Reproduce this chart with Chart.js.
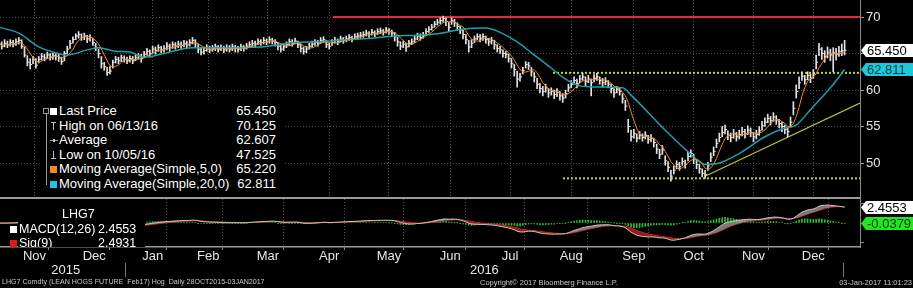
<!DOCTYPE html>
<html>
<head>
<meta charset="utf-8">
<script src="https://cdn.jsdelivr.net/npm/chart.js@4.4.1/dist/chart.umd.min.js"></script>
<style>
  body { margin:0; background:#000; width:913px; height:288px; overflow:hidden; position:relative;
         font-family:"Liberation Sans", Arial, sans-serif; color:#fff; }
  canvas { position:absolute; left:0; }
  #priceCanvas { top:0; }
  #macdCanvas { top:198px; }
  .box { position:absolute; background:#000; }
  .row { position:absolute; left:0; right:0; height:14px; line-height:14px; font-size:13px; white-space:nowrap; }
  .row .lbl { position:absolute; left:17px; }
  .row .val { position:absolute; right:8px; }
  .sq { position:absolute; width:7px; height:7px; top:4px; }
  .foot { position:absolute; top:278px; font-size:7.5px; color:#c8c8c8; white-space:nowrap; }
</style>
</head>
<body>
<canvas id="priceCanvas" width="913" height="199"></canvas>
<canvas id="macdCanvas" width="913" height="90"></canvas>

<!-- price legend -->
<div class="box" id="legend" style="left:42px;top:100px;width:242px;height:96px;">
  <div style="position:absolute;left:1px;top:8px;width:4px;height:4px;border:1px solid #999;"></div>
  <div style="position:absolute;left:4px;top:13px;width:1px;height:72px;background:#999;"></div>
  <div class="row" style="top:4px"><span class="sq" style="left:8px;background:#fff"></span><span class="lbl">Last Price</span><span class="val">65.450</span></div>
  <div class="row" style="top:18.6px"><span style="position:absolute;left:9px;top:3px;width:5px;height:1px;background:#bbb"></span><span style="position:absolute;left:11px;top:3px;width:1px;height:8px;background:#bbb"></span><span class="lbl">High on 06/13/16</span><span class="val">70.125</span></div>
  <div class="row" style="top:33.2px"><span style="position:absolute;left:8px;top:7px;width:8px;height:1px;background:#999"></span><span style="position:absolute;left:11px;top:6px;width:2px;height:3px;background:#ccc"></span><span class="lbl">Average</span><span class="val">62.607</span></div>
  <div class="row" style="top:47.8px"><span style="position:absolute;left:11px;top:3px;width:1px;height:8px;background:#bbb"></span><span style="position:absolute;left:9px;top:10px;width:5px;height:1px;background:#bbb"></span><span class="lbl">Low on 10/05/16</span><span class="val">47.525</span></div>
  <div class="row" style="top:62.4px"><span class="sq" style="left:8px;background:#f08c1e"></span><span class="lbl">Moving Average(Simple,5,0)</span><span class="val">65.220</span></div>
  <div class="row" style="top:77px"><span class="sq" style="left:8px;background:#19c6dc"></span><span class="lbl">Moving Average(Simple,20,0)</span><span class="val">62.811</span></div>
</div>

<!-- MACD legend -->
<div class="box" style="left:18px;top:199px;width:127px;height:48px;overflow:hidden;">
  <div class="row" style="top:8px;left:44px;font-size:12.5px;">LHG7</div>
  <div class="row" style="top:23px;font-size:12.5px;"><span style="position:absolute;left:1px;">MACD(12,26)</span><span style="position:absolute;left:80px;">2.4553</span></div>
  <div class="row" style="top:37px;font-size:12.5px;"><span style="position:absolute;left:1px;">Sig(9)</span><span style="position:absolute;left:80px;">2.4931</span></div>
</div>
<div style="position:absolute;left:10px;top:226px;width:7px;height:7px;background:#fff;"></div>
<div style="position:absolute;left:10px;top:240px;width:7px;height:7px;background:#e01818;"></div>

<div class="foot" style="left:2px;font-size:7.1px;">LHG7 Comdty (LEAN HOGS FUTURE &nbsp;Feb17) Hog &nbsp;Daily 28OCT2015-03JAN2017</div>
<div class="foot" style="left:480px;">Copyright© 2017 Bloomberg Finance L.P.</div>
<div class="foot" style="right:1px;">03-Jan-2017 11:01:23</div>

<script>
// ---- data (one value per trading day, 28 Oct 2015 .. 03 Jan 2017) ----
const monthLabels = ['Nov','Dec','Jan','Feb','Mar','Apr','May','Jun','Jul','Aug','Sep','Oct','Nov','Dec'];
const yearLabels = ['2015','2016'];
// trading days per month: Oct15 .. Jan17
const monthLengths = [3,20,22,19,20,22,21,21,22,20,23,21,21,21,21,1];

const closes = [
  66.3,66.0,66.4,
  66.2,66.5,66.3,66.6,66.8,66.0,64.8,63.8,63.5,64.2,63.4,64.2,64.6,64.4,64.8,64.5,64.7,64.6,64.4,63.9,
  65.0,65.6,66.4,66.9,67.4,67.6,67.2,67.4,67.0,67.2,66.5,65.8,65.0,63.6,63.2,62.4,62.6,63.8,64.2,64.0,64.4,64.2,
  64.0,64.3,64.0,64.4,64.6,64.3,64.9,65.3,65.0,65.6,65.4,65.8,65.5,65.7,66.0,65.8,66.2,66.0,66.3,
  66.1,66.4,66.2,66.5,66.8,66.4,65.6,65.2,65.4,65.8,65.5,65.7,65.9,65.6,65.8,65.5,65.8,65.6,65.9,65.7,
  65.6,65.9,65.7,66.0,66.2,66.4,66.3,66.6,66.5,66.8,66.6,66.9,66.7,66.5,66.0,65.6,65.9,66.2,66.6,66.4,66.7,66.2,
  65.7,65.3,65.6,66.0,66.3,66.5,66.4,66.8,66.9,66.2,66.0,66.5,66.8,66.6,67.0,66.8,67.0,67.2,67.0,67.3,67.4,
  67.5,67.6,67.8,67.6,67.9,67.7,68.0,68.1,67.9,68.2,68.0,67.8,67.3,66.6,66.0,66.3,65.9,66.4,66.6,67.0,67.4,
  67.2,67.5,68.0,68.3,68.6,69.0,69.3,69.5,69.8,69.4,68.6,69.5,69.2,68.7,68.2,67.6,66.9,65.9,66.4,67.0,67.3,67.1,
  67.3,66.9,66.6,66.8,66.2,65.7,65.5,65.0,64.9,64.3,63.6,62.8,61.5,61.8,62.7,63.5,63.3,62.5,61.8,60.8,
  60.2,59.8,60.3,59.6,59.8,59.4,59.7,59.2,58.9,59.5,60.3,60.8,61.3,60.9,61.5,61.8,61.2,61.5,61.0,61.6,61.8,61.3,61.0,
  61.2,60.8,60.2,59.6,60.1,59.8,58.8,57.8,55.0,53.6,54.0,53.4,53.8,53.5,53.8,53.2,53.4,52.8,51.9,51.2,51.8,
  50.3,49.4,48.2,49.0,49.8,49.5,50.2,49.8,50.9,51.3,50.5,49.8,49.2,48.6,48.4,49.6,50.8,51.6,52.7,53.5,54.2,
  54.6,53.8,53.5,54.0,53.6,53.9,54.3,54.0,54.5,54.2,53.6,53.9,54.4,55.1,55.6,56.1,55.8,56.3,55.9,55.4,55.0,
  54.6,54.3,55.6,57.5,59.8,61.0,61.9,61.4,62.0,61.6,62.2,63.8,65.6,65.0,64.6,65.2,64.8,65.1,64.9,65.3,65.4,
  65.45
];
const highs = [
  66.8,66.6,66.9,
  66.7,66.9,66.8,67.0,67.2,66.9,65.9,64.7,64.3,64.6,64.3,64.6,65.0,64.9,65.2,65.0,65.1,65.0,64.9,64.5,
  65.3,66.0,66.8,67.3,67.7,68.0,67.7,67.8,67.5,67.6,67.1,66.4,65.6,64.6,63.8,63.1,63.2,64.1,64.6,64.5,64.8,64.7,
  64.5,64.7,64.6,64.8,65.0,64.9,65.3,65.7,65.5,66.0,65.9,66.2,66.0,66.1,66.5,66.3,66.6,66.5,66.7,
  66.6,66.8,66.7,66.9,67.2,66.9,66.3,65.7,65.8,66.2,66.0,66.1,66.3,66.1,66.2,66.0,66.2,66.1,66.3,66.1,
  66.0,66.3,66.1,66.4,66.6,66.8,66.7,67.0,66.9,67.2,67.0,67.3,67.1,66.9,66.5,66.1,66.3,66.6,67.0,66.9,67.1,66.7,
  66.3,65.9,66.0,66.4,66.7,66.9,66.8,67.2,67.3,66.8,66.4,66.9,67.2,67.0,67.4,67.2,67.4,67.6,67.4,67.7,67.8,
  67.9,68.0,68.2,68.0,68.3,68.1,68.4,68.5,68.3,68.6,68.4,68.2,67.9,67.2,66.6,66.7,66.4,66.8,67.0,67.4,67.8,
  67.7,67.9,68.4,68.7,69.0,69.4,69.7,69.9,70.125,69.9,69.3,69.9,69.7,69.2,68.7,68.2,67.6,66.8,66.9,67.4,67.7,67.6,
  67.7,67.4,67.1,67.2,66.8,66.2,66.0,65.5,65.3,64.9,64.3,63.5,62.6,62.3,63.1,63.9,63.8,63.1,62.4,61.6,
  60.9,60.5,60.8,60.2,60.3,60.0,60.2,59.8,59.5,60.0,60.8,61.3,61.8,61.5,62.0,62.3,61.8,62.0,61.5,62.1,62.3,61.8,61.6,
  61.7,61.3,60.8,60.2,60.5,60.3,59.5,58.6,56.0,54.5,54.6,54.0,54.3,54.0,54.3,53.8,53.9,53.4,52.6,51.9,52.4,
  51.0,50.2,49.0,49.6,50.3,50.1,50.7,50.4,51.5,51.8,51.2,50.4,49.8,49.2,49.0,50.1,51.4,52.2,53.3,54.1,55.0,
  55.2,54.4,54.1,54.6,54.2,54.5,54.9,54.6,55.1,54.8,54.2,54.5,55.0,55.7,56.2,56.7,56.4,56.9,56.5,56.0,55.6,
  55.2,54.9,56.3,58.4,60.7,61.8,62.5,62.0,62.5,62.2,62.8,64.8,66.4,65.8,65.4,65.9,65.6,65.8,65.7,66.0,66.3,
  66.8
];
const lows = [
  65.8,65.6,65.9,
  65.8,66.0,65.9,66.1,66.3,65.7,64.5,63.3,62.9,63.6,63.0,63.7,64.1,64.0,64.3,64.1,64.2,64.1,63.9,63.5,
  64.0,65.0,65.7,66.4,66.9,67.1,66.8,66.9,66.5,66.7,66.1,65.4,64.4,63.0,62.7,62.0,62.2,63.0,63.7,63.6,63.9,63.8,
  63.6,63.8,63.6,64.0,64.2,63.8,64.4,64.8,64.5,65.1,64.9,65.3,65.1,65.2,65.5,65.3,65.7,65.6,65.8,
  65.7,65.9,65.8,66.0,66.3,65.9,65.1,64.8,64.9,65.3,65.1,65.3,65.4,65.2,65.4,65.1,65.3,65.2,65.4,65.2,
  65.2,65.4,65.3,65.6,65.8,65.9,65.9,66.2,66.1,66.3,66.2,66.4,66.3,66.0,65.5,65.2,65.4,65.8,66.1,66.0,66.3,65.8,
  65.2,64.9,65.1,65.6,65.9,66.1,66.0,66.4,66.5,65.8,65.6,66.1,66.4,66.2,66.6,66.4,66.6,66.8,66.6,66.9,67.0,
  67.1,67.2,67.4,67.2,67.5,67.3,67.6,67.7,67.5,67.8,67.6,67.3,66.7,66.0,65.5,65.8,65.3,65.9,66.2,66.5,66.9,
  66.8,67.1,67.5,67.9,68.2,68.6,68.9,69.1,69.3,68.8,68.0,69.0,68.7,68.2,67.7,67.0,66.3,65.2,65.8,66.5,66.9,66.6,
  66.8,66.4,66.1,66.3,65.6,65.2,65.0,64.5,64.4,63.8,63.0,61.9,60.4,61.2,62.2,63.0,62.8,61.9,61.1,60.2,
  59.6,59.2,59.7,59.0,59.3,58.8,59.1,58.6,58.3,58.9,59.8,60.3,60.8,60.3,61.0,61.3,60.6,61.0,59.2,61.1,61.3,60.8,60.4,
  60.7,60.3,59.6,59.0,59.6,59.3,58.2,57.2,54.2,53.0,53.4,52.9,53.3,53.0,53.3,52.7,52.9,52.2,51.3,50.6,51.2,
  49.7,48.8,47.525,48.5,49.2,49.0,49.7,49.3,50.3,50.8,49.9,49.2,48.6,48.1,47.9,49.0,50.2,51.0,52.1,52.9,53.6,
  54.0,53.2,52.9,53.4,53.0,53.3,53.7,53.4,53.9,53.6,52.9,53.3,53.8,54.5,55.0,55.5,55.2,55.7,55.3,54.8,54.3,
  54.0,53.6,54.9,56.6,58.9,60.2,61.3,60.8,61.4,61.0,61.6,62.9,64.7,64.2,63.8,64.4,64.0,62.5,64.1,64.6,64.7,
  64.8
];
// 20-day moving average, read at roughly weekly steps (trading-day index, value)
const ma20Days = [0,7,14,20,24,31,35,41,46,51,58,68,80,92,104,112,119,131,139,147,154,162,171,176,182,187,193,199,205,211,219,222,234,243,248,253,260,269,276,280,285,292,297];
const ma20Vals = [68.6,67.8,65.9,65.1,64.8,65.5,65.8,65.3,65.2,64.5,65.0,65.8,65.8,65.9,66.5,66.6,66.8,67.1,67.4,67.5,67.7,68.3,68.5,67.9,66.6,65.1,63.3,61.5,60.5,60.4,60.3,59.3,54.5,51.2,49.8,50.0,51.3,53.6,54.8,55.2,57.3,60.3,62.811];
// drawn study lines: [startDay, startValue, endDay, endValue]
const highLine = [117.3, 70.0, 302.4, 70.0];
const upperBand = [194.6, 62.35, 302.4, 62.35];
const lowerBand = [198.1, 47.9, 302.4, 47.9];
const trendLine = [248.0, 48.2, 302.4, 58.2];
// last values shown in the right-hand flags
const lastPrice = 65.450, lastMa20 = 62.811, lastMacd = 2.4553, lastHist = -0.0379;

// ---- derived studies (as named in the legend) ----
const ma5 = closes.map((c, i) => {
  const w = closes.slice(Math.max(0, i - 4), i + 1);
  return w.reduce((a, b) => a + b, 0) / w.length;
});
function ema(src, n) {
  const k = 2 / (n + 1), out = [];
  src.forEach((v, i) => out.push(i ? v * k + out[i - 1] * (1 - k) : v));
  return out;
}
const e12 = ema(closes, 12), e26 = ema(closes, 26);
const macd = e12.map((v, i) => v - e26[i]);
const sig = ema(macd, 9);
const hist = macd.map((v, i) => v - sig[i]);

// ---- month / year positions on the trading-day axis ----
const starts = [];
monthLengths.reduce((acc, n) => { starts.push(acc); return acc + n; }, 0);
const bounds = starts.slice(1).map(s => s - 0.5);            // Nov15 .. Jan17 boundaries
const monthCenters = monthLabels.map((m, i) => (bounds[i] + bounds[i + 1]) / 2);
const yearBounds = [bounds[2], bounds[14]];
const yearCenters = [(bounds[0] + bounds[2]) / 2, (bounds[2] + bounds[14]) / 2];
const isBound = v => bounds.some(b => Math.abs(b - v) < 1e-6);
const isYearBound = v => yearBounds.some(b => Math.abs(b - v) < 1e-6);

const X_MIN = 0.4, X_MAX = 302.4, AXIS_W = 53;
Chart.defaults.font.family = '"Liberation Sans", Arial, sans-serif';
Chart.defaults.color = '#e6e6e6';

const pts = (xs, ys) => xs.map((x, i) => ({x, y: ys[i]}));
const seg = s => [{x: s[0], y: s[1]}, {x: s[2], y: s[3]}];
// right axes: fixed width, and no extra room above/below for the tick labels
const fitRight = s => { s.width = AXIS_W; s.paddingTop = 0; s.paddingBottom = 0; };

function flagPlugin(id, flags) {
  return {
    id,
    afterDraw(chart) {
      const {ctx} = chart, y = chart.scales.y, x0 = chart.chartArea.right + 1;
      flags.forEach(f => {
        const py = Math.round(y.getPixelForValue(f.value)) + 0.5;
        ctx.save();
        ctx.fillStyle = f.bg;
        ctx.beginPath();
        ctx.moveTo(x0, py);
        ctx.lineTo(x0 + 5, py - 6.5);
        ctx.lineTo(913, py - 6.5);
        ctx.lineTo(913, py + 6.5);
        ctx.lineTo(x0 + 5, py + 6.5);
        ctx.closePath();
        ctx.fill();
        ctx.fillStyle = f.fg;
        ctx.font = '13px "Liberation Sans", Arial, sans-serif';
        ctx.textBaseline = 'middle';
        ctx.fillText(f.text, x0 + 6, py + 0.5);
        ctx.restore();
      });
    }
  };
}

const dotted = {color: '#4d4d4d', lineWidth: 1};

// ---- price panel ----
new Chart(document.getElementById('priceCanvas'), {
  type: 'line',
  data: {
    datasets: [
      {label: 'MA5', data: pts(closes.map((c, i) => i), ma5), borderColor: '#e8892a', borderWidth: 1, pointRadius: 0, order: 0},
      {label: 'MA20', data: pts(ma20Days, ma20Vals), borderColor: '#1c9fae', borderWidth: 1.5, pointRadius: 0, cubicInterpolationMode: 'monotone', order: 1},
      {label: 'Close', data: pts(closes.map((c, i) => i), closes), showLine: false, pointStyle: 'dash', pointRadius: 2,
        pointBorderColor: '#e8e8e8', pointBorderWidth: 1, order: 2},
      {type: 'bar', label: 'Range', data: closes.map((c, i) => ({x: i, y: [lows[i], highs[i]]})),
        backgroundColor: '#e2e2e2', barThickness: 1, borderWidth: 0, order: 3},
      {label: 'High line', data: seg(highLine), borderColor: '#e8283c', borderWidth: 2, pointRadius: 0, order: 4},
      {label: 'Upper', data: seg(upperBand), borderColor: '#b6e022', borderWidth: 2, borderDash: [2, 2], pointRadius: 0, order: 4},
      {label: 'Lower', data: seg(lowerBand), borderColor: '#b6e022', borderWidth: 2, borderDash: [2, 2], pointRadius: 0, order: 4},
      {label: 'Trend', data: seg(trendLine), borderColor: '#b3c63a', borderWidth: 1.2, pointRadius: 0, order: 4}
    ]
  },
  options: {
    responsive: false, animation: false,
    layout: {autoPadding: false, padding: {top: 0, bottom: 1, left: 0, right: 0}},
    plugins: {legend: {display: false}, tooltip: {enabled: false}},
    scales: {
      x: {
        type: 'linear', min: X_MIN, max: X_MAX, offset: false,
        afterBuildTicks: s => { s.ticks = bounds.map(v => ({value: v})); },
        afterFit: s => { s.height = 0; s.paddingLeft = 0; s.paddingRight = 0; },
        ticks: {display: false},
        grid: {...dotted, drawTicks: false},
        border: {display: true, color: '#9a9a9a', width: 2, dash: [1, 2]}
      },
      y: {
        position: 'right', min: 45.21, max: 72.33,
        afterBuildTicks: s => { s.ticks = [50, 55, 60, 65, 70].map(v => ({value: v})); },
        afterFit: fitRight,
        ticks: {font: {size: 13, lineHeight: 0.1}, color: '#e6e6e6', padding: 2},
        grid: {...dotted, drawTicks: true, tickLength: 4, tickColor: '#9a9a9a'},
        border: {display: true, color: '#8a8a8a', width: 1, dash: [1, 2]}
      }
    }
  },
  plugins: [flagPlugin('priceFlags', [
    {value: lastPrice, text: lastPrice.toFixed(3), bg: '#ffffff', fg: '#000000'},
    {value: lastMa20, text: lastMa20.toFixed(3), bg: '#1ec8dc', fg: '#063840'}
  ])]
});

// ---- MACD panel with the date axis ----
new Chart(document.getElementById('macdCanvas'), {
  type: 'line',
  data: {
    datasets: [
      {label: 'MACD', data: pts(macd.map((v, i) => i), macd), borderColor: '#c8c8c8', borderWidth: 1, pointRadius: 0,
        fill: {target: 1, above: 'rgba(160,160,160,0.75)', below: 'rgba(190,30,30,0.8)'}, order: 0},
      {label: 'Sig', data: pts(sig.map((v, i) => i), sig), borderColor: '#d41c1c', borderWidth: 1, pointRadius: 0, order: 1},
      {type: 'bar', label: 'Hist', data: hist.map((v, i) => ({x: i, y: v})), backgroundColor: '#2fbf2f', barThickness: 1, borderWidth: 0, order: 2}
    ]
  },
  options: {
    responsive: false, animation: false,
    layout: {autoPadding: false, padding: {top: 1, bottom: 0, left: 0, right: 0}},
    plugins: {legend: {display: false}, tooltip: {enabled: false}},
    scales: {
      x: {
        type: 'linear', min: X_MIN, max: X_MAX, offset: false,
        afterBuildTicks: s => { s.ticks = [...bounds, ...monthCenters].sort((a, b) => a - b).map(v => ({value: v})); },
        afterFit: s => { s.height = 16; s.paddingLeft = 0; s.paddingRight = 0; },
        ticks: {autoSkip: false, maxRotation: 0, minRotation: 0, padding: 0, font: {size: 13, lineHeight: 1}, color: '#e6e6e6',
          callback: v => { const k = monthCenters.findIndex(c => Math.abs(c - v) < 1e-6); return k >= 0 ? monthLabels[k] : ''; }},
        grid: {lineWidth: 1, tickLength: 3,
          color: c => (c.tick && isBound(c.tick.value)) ? '#4d4d4d' : 'transparent',
          tickColor: c => (c.tick && isBound(c.tick.value)) ? '#8a8a8a' : 'transparent'},
        border: {display: true, color: '#9a9a9a', width: 1.5, dash: [1, 2]}
      },
      x2: {
        type: 'linear', position: 'bottom', min: X_MIN, max: X_MAX, offset: false,
        afterBuildTicks: s => { s.ticks = [...yearBounds, ...yearCenters].sort((a, b) => a - b).map(v => ({value: v})); },
        afterFit: s => { s.height = 25; s.paddingLeft = 0; s.paddingRight = 0; },
        ticks: {autoSkip: false, maxRotation: 0, minRotation: 0, padding: -13.5, font: {size: 13, lineHeight: 1}, color: '#e6e6e6',
          callback: v => { const k = yearCenters.findIndex(c => Math.abs(c - v) < 1e-6); return k >= 0 ? yearLabels[k] : ''; }},
        grid: {drawOnChartArea: false, tickLength: 14, lineWidth: 1,
          tickColor: c => (c.tick && isYearBound(c.tick.value)) ? '#777' : 'transparent'},
        border: {display: false}
      },
      y: {
        position: 'right', min: -3.7, max: 3.7,
        afterBuildTicks: s => { s.ticks = [-3, 0, 3].map(v => ({value: v})); },
        afterFit: fitRight,
        ticks: {callback: () => '', font: {size: 13, lineHeight: 0.1}},
        grid: {drawOnChartArea: false, tickLength: 4, tickColor: '#8a8a8a'},
        border: {display: true, color: '#8a8a8a', width: 1}
      }
    }
  },
  plugins: [flagPlugin('macdFlags', [
    {value: lastMacd, text: lastMacd.toFixed(4), bg: '#ffffff', fg: '#000000'},
    {value: lastHist, text: lastHist.toFixed(4), bg: '#22e622', fg: '#063a06'}
  ])]
});
</script>
</body>
</html>
